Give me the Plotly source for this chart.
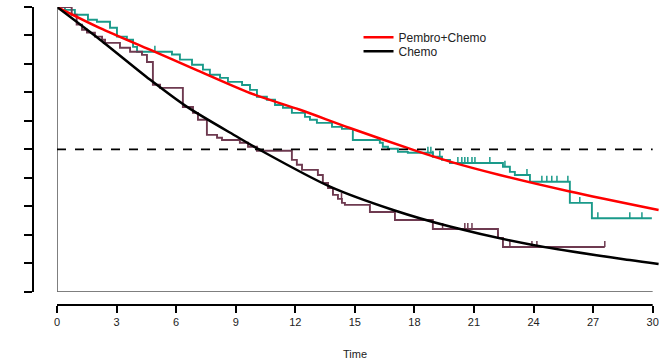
import plotly.graph_objects as go

# ---------------- data ----------------
# Kaplan-Meier steps: Pembro+Chemo
pc_time = [0, 0.40, 0.90, 1.56, 2.01, 2.67, 3.02, 3.52, 3.83, 4.03, 5.79, 6.19, 6.80,
           7.35, 7.70, 8.21, 8.61, 9.32, 9.72, 10.07, 10.57, 10.98, 11.38, 11.83, 12.49,
           12.74, 13.09, 13.85, 14.35, 14.90, 16.26, 16.41, 16.67, 17.17, 17.67, 18.93,
           19.39, 19.79, 22.46, 22.81, 23.06, 23.82, 25.83, 26.94, 29.96]
pc_surv = [1.0, 0.990, 0.973, 0.955, 0.948, 0.927, 0.896, 0.885, 0.860, 0.843, 0.833, 0.815, 0.797,
           0.780, 0.762, 0.751, 0.737, 0.726, 0.709, 0.685, 0.674, 0.656, 0.646, 0.628, 0.614,
           0.604, 0.593, 0.579, 0.572, 0.533, 0.523, 0.509, 0.502, 0.491, 0.488, 0.474,
           0.463, 0.452, 0.439, 0.421, 0.410, 0.386, 0.312, 0.258, 0.258]
pc_censor = [4.93, 18.68, 18.83, 18.93, 19.28, 20.19, 20.39, 20.54, 20.69, 20.90, 21.05,
             21.80, 22.56, 23.67, 24.42, 24.67, 24.92, 25.18, 25.73, 26.33, 27.24, 28.85, 29.46]

# Kaplan-Meier steps: Chemo
c_time = [0, 0.74, 0.99, 1.26, 1.51, 1.91, 2.27, 2.42, 3.17, 3.68, 4.28, 4.53, 4.83, 5.19,
          6.34, 6.85, 7.10, 7.55, 8.06, 8.31, 9.21, 9.62, 10.07, 11.83, 12.08, 12.34, 13.14,
          13.39, 13.65, 13.90, 14.15, 14.35, 14.50, 15.76, 17.02, 18.93, 22.21, 22.46, 27.59]
c_surv = [1.0, 0.973, 0.938, 0.920, 0.910, 0.896, 0.885, 0.874, 0.857, 0.843, 0.832, 0.807,
          0.727, 0.716, 0.649, 0.628, 0.604, 0.551, 0.541, 0.533, 0.523, 0.509, 0.495, 0.463,
          0.446, 0.428, 0.410, 0.382, 0.364, 0.340, 0.326, 0.312, 0.305, 0.280, 0.252, 0.220,
          0.189, 0.157, 0.157]
c_censor = [0.25, 0.60, 14.33, 19.42, 20.54, 20.69, 20.90, 22.21, 22.81, 23.92, 24.17, 27.59]

# Fitted (parametric) curves
fit_pc_time = [0, 2.17, 4.68, 6.95, 9.72, 12.24, 14.75, 17.94, 19.79, 22.3, 25.83, 30.3]
fit_pc_surv = [1.0, 0.926, 0.850, 0.781, 0.698, 0.639, 0.575, 0.498, 0.457, 0.410, 0.352, 0.287]
fit_c_time = [0, 2.17, 4.68, 6.53, 9.05, 10.22, 13.75, 16.93, 19.79, 23.97, 28.85, 30.3]
fit_c_surv = [1.0, 0.885, 0.745, 0.650, 0.545, 0.498, 0.369, 0.287, 0.229, 0.164, 0.111, 0.097]

x_ticks = [0, 3, 6, 9, 12, 15, 18, 21, 24, 27, 30]
y_ticks = [0, 0.1, 0.2, 0.3, 0.4, 0.5, 0.6, 0.7, 0.8, 0.9, 1.0]

TEAL = "#1A9A8A"
MAROON = "#6E3A50"
FONT = "Arial, Liberation Sans, sans-serif"


def surv_at(times, survs, t):
    s = survs[0]
    for ti, si in zip(times, survs):
        if ti <= t:
            s = si
    return s


def censor_segments(times, survs, cens, h=0.021):
    xs, ys = [], []
    for t in cens:
        s = surv_at(times, survs, t)
        xs += [t, t, None]
        ys += [s, s + h, None]
    return xs, ys


fig = go.Figure()

fig.add_trace(go.Scatter(x=pc_time, y=pc_surv, mode="lines", line=dict(color=TEAL, width=1.9, shape="hv"),
                         showlegend=False, hoverinfo="skip"))
cx, cy = censor_segments(pc_time, pc_surv, pc_censor)
fig.add_trace(go.Scatter(x=cx, y=cy, mode="lines", line=dict(color=TEAL, width=1.5),
                         showlegend=False, hoverinfo="skip"))

fig.add_trace(go.Scatter(x=c_time, y=c_surv, mode="lines", line=dict(color=MAROON, width=1.9, shape="hv"),
                         showlegend=False, hoverinfo="skip"))
cx, cy = censor_segments(c_time, c_surv, c_censor)
fig.add_trace(go.Scatter(x=cx, y=cy, mode="lines", line=dict(color=MAROON, width=1.5),
                         showlegend=False, hoverinfo="skip"))

fig.add_trace(go.Scatter(x=fit_pc_time, y=fit_pc_surv, mode="lines", name="Pembro+Chemo", legend="legend",
                         line=dict(color="#FF0000", width=2.5, shape="spline", smoothing=0.8)))
fig.add_trace(go.Scatter(x=fit_c_time, y=fit_c_surv, mode="lines", name="Chemo", legend="legend2",
                         line=dict(color="#000000", width=2.5, shape="spline", smoothing=0.8)))

shapes = [
    dict(type="line", xref="x", yref="y", x0=0, x1=0, y0=0, y1=1, line=dict(color="#555555", width=1.5)),
    dict(type="line", xref="x", yref="y", x0=0, x1=30, y0=0, y1=0, line=dict(color="#555555", width=1.5)),
    dict(type="line", xref="x", yref="y", x0=0, x1=30, y0=0.5, y1=0.5,
         line=dict(color="#000000", width=1.7, dash="dash")),
    dict(type="line", xref="x", yref="paper", x0=0, x1=30, y0=0, y1=0, line=dict(color="#000000", width=2)),
]

legend_common = dict(xanchor="left", yanchor="top", bgcolor="rgba(0,0,0,0)",
                     font=dict(size=12, color="#222222"))

fig.update_layout(
    width=659, height=363,
    margin=dict(l=33, r=0, t=7, b=58),
    paper_bgcolor="white", plot_bgcolor="white",
    font=dict(family=FONT, size=11, color="#222222"),
    shapes=shapes,
    showlegend=True,
    legend=dict(x=0.52, y=0.947, **legend_common),
    legend2=dict(x=0.52, y=0.900, **legend_common),
    xaxis=dict(range=[0, 30.32], domain=[0.03834, 1], anchor="free", position=0,
               tickvals=x_ticks, ticktext=[str(v) for v in x_ticks],
               ticks="outside", ticklen=7, tickwidth=2, tickcolor="black",
               showline=False, showgrid=False, zeroline=False,
               tickfont=dict(size=11, color="#222222")),
    yaxis=dict(range=[0, 1], domain=[0.0446, 1], anchor="free", position=0,
               tickvals=y_ticks, showticklabels=False,
               ticks="outside", ticklen=8, tickwidth=2, tickcolor="black",
               showline=True, linewidth=2, linecolor="black",
               showgrid=False, zeroline=False),
    annotations=[dict(text="Time", xref="x", yref="paper", x=15, y=-0.164, showarrow=False,
                      xanchor="center", yanchor="middle", font=dict(size=11, color="#222222"))],
)

fig.write_html("out.html")
